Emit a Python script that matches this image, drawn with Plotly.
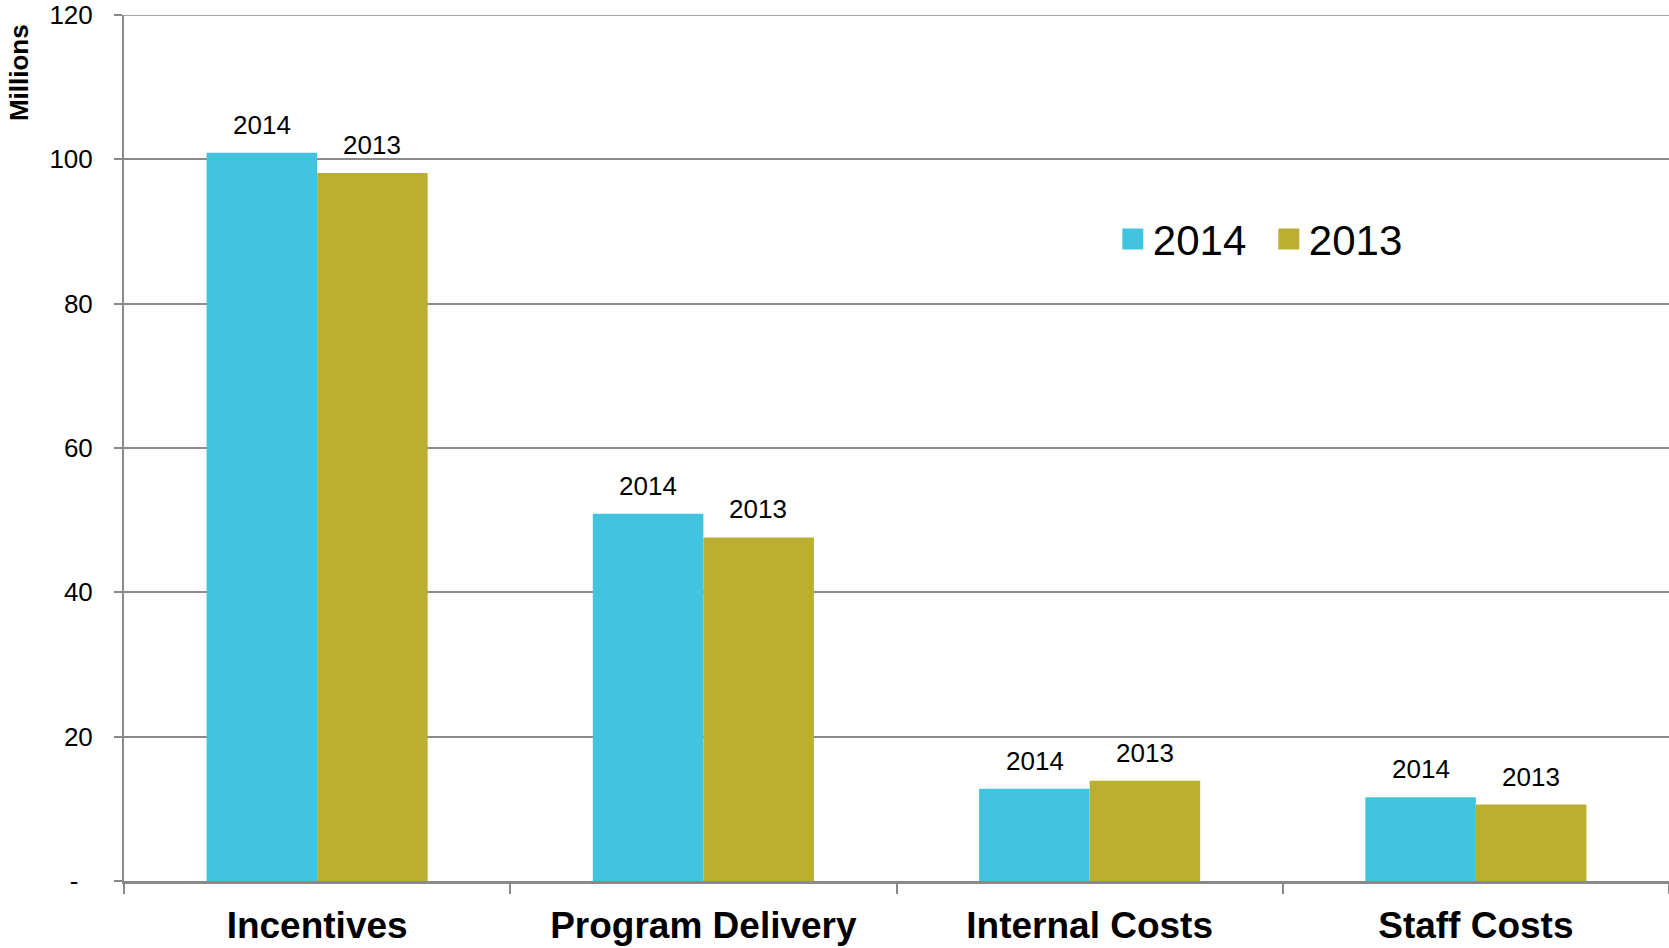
import plotly.graph_objects as go

categories = ["Incentives", "Program Delivery", "Internal Costs", "Staff Costs"]
series_names = ["2014", "2013"]
values_2014 = [100.9, 50.9, 12.8, 11.6]
values_2013 = [98.1, 47.6, 13.9, 10.6]
colors = ["#42C4DE", "#BBAF32"]
y_tickvals = [0, 20, 40, 60, 80, 100, 120]
y_ticktext = ["-\u00a0\u00a0", "20", "40", "60", "80", "100", "120"]

FONT = "Liberation Sans, Arial, sans-serif"
GRID = "#8a8a8a"

fig = go.Figure()
for name, vals, col in zip(series_names, [values_2014, values_2013], colors):
    fig.add_trace(go.Bar(
        x=categories, y=vals, name=name, showlegend=False,
        marker=dict(color=col, line=dict(width=0)),
    ))
# legend entries with larger square symbols
for name, col in zip(series_names, colors):
    fig.add_trace(go.Scatter(
        x=[None], y=[None], name=name, mode="markers",
        marker=dict(symbol="square", size=16, color=col,
                    line=dict(color=col, width=5)),
        showlegend=True,
    ))

# data labels (series name above each bar)
bar_half = 55
for i, (name, vals) in enumerate(zip(series_names, [values_2014, values_2013])):
    shift = -bar_half if i == 0 else bar_half
    for c, v in zip(categories, vals):
        fig.add_annotation(
            x=c, y=v, text=name, showarrow=False,
            xref="x", yref="y", xshift=shift, yshift=11,
            yanchor="bottom", xanchor="center",
            font=dict(family=FONT, size=26, color="black"),
        )

fig.add_annotation(
    text="<b>Millions</b>", textangle=-90, showarrow=False,
    xref="paper", yref="paper", x=-0.068, y=0.934,
    xanchor="center", yanchor="middle",
    font=dict(family=FONT, size=26, color="black"),
)

# top gridline (plotly omits gridlines lying exactly on the plot edge)
fig.add_shape(
    type="line", xref="paper", yref="y",
    x0=0, x1=1, y0=y_tickvals[-1], y1=y_tickvals[-1],
    line=dict(color=GRID, width=1.5), layer="below",
)

fig.update_layout(
    width=1669, height=948,
    margin=dict(l=124, r=0, t=15, b=67, autoexpand=False),
    plot_bgcolor="white", paper_bgcolor="white",
    barmode="group", bargap=0.4275, bargroupgap=0,
    font=dict(family=FONT, color="black"),
    legend=dict(
        orientation="h", x=0.640, y=0.741, xanchor="left", yanchor="middle",
        font=dict(family=FONT, size=42, color="black"),
        bgcolor="rgba(0,0,0,0)", entrywidth=111, itemsizing="trace",
    ),
    showlegend=True,
)
fig.update_xaxes(
    type="category", showline=True, linecolor=GRID, linewidth=2.5,
    ticks="outside", tickson="boundaries", ticklen=10, tickcolor=GRID, tickwidth=2,
    tickfont=dict(family=FONT, size=37, color="black"),
    showgrid=False, ticklabelstandoff=10, automargin=False,
    tickprefix="<b>", ticksuffix="</b>",
)
fig.update_yaxes(
    range=[0, 120], tickvals=y_tickvals, ticktext=y_ticktext,
    showline=True, linecolor=GRID, linewidth=2,
    ticks="outside", ticklen=8, tickcolor=GRID, tickwidth=2,
    showgrid=True, gridcolor=GRID, gridwidth=1.5, zeroline=False,
    tickfont=dict(family=FONT, size=26, color="black"),
    ticklabelstandoff=16, automargin=False, ticklabeloverflow="allow",
)

fig.write_html(
    "out.html",
    config={"displayModeBar": False},
    post_script="document.body.style.margin='0px';document.body.style.overflow='hidden';",
)
